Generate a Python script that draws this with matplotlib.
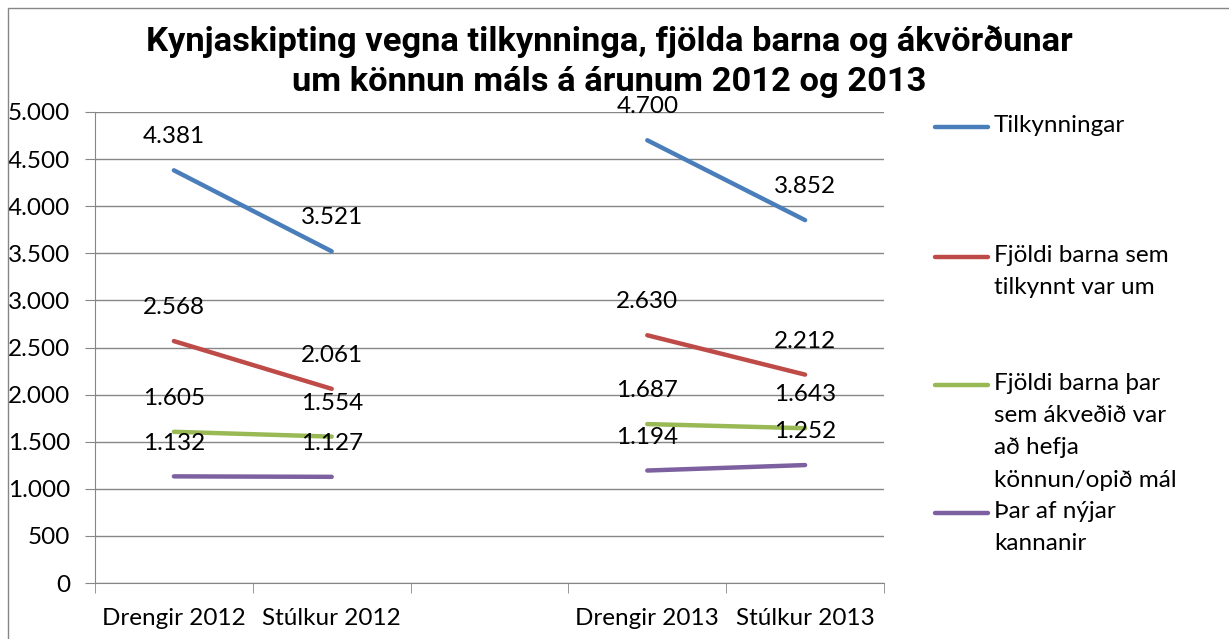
import numpy as np
import matplotlib.pyplot as plt
from matplotlib.lines import Line2D
from matplotlib.patches import Rectangle

categories = ["Drengir 2012", "Stúlkur 2012", "", "Drengir 2013", "Stúlkur 2013"]
tilkynningar = [4381, 3521, np.nan, 4700, 3852]
fjoldi_barna = [2568, 2061, np.nan, 2630, 2212]
akvedid = [1605, 1554, np.nan, 1687, 1643]
nyjar = [1132, 1127, np.nan, 1194, 1252]

series_names = ["Tilkynningar",
                "Fjöldi barna sem\ntilkynnt var um",
                "Fjöldi barna þar\nsem ákveðið var\nað hefja\nkönnun/opið mál",
                "Þar af nýjar\nkannanir"]
colors = ["#4A7EBB", "#BE4B48", "#98B954", "#7D60A0"]

plt.rcParams['font.family'] = ['Lato', 'DejaVu Sans']
fs = 17.5

fig = plt.figure(figsize=(12.29, 6.39), dpi=100)
ax = fig.add_axes([95/1229, 1-583/639, (884-95)/1229, (583-112)/639])

x = np.arange(len(categories))
for vals, c in zip([tilkynningar, fjoldi_barna, akvedid, nyjar], colors):
    ax.plot(x, vals, color=c, lw=3.2, solid_capstyle='round')
    for xi, v in zip(x, vals):
        if not np.isnan(v):
            ax.annotate(f"{int(v):,}".replace(",", "."), (xi, v), xytext=(0, 24),
                        textcoords='offset points', ha='center', va='center', fontsize=fs)

ax.set_xlim(-0.5, len(categories) - 0.5)
ax.set_ylim(0, 5000)
yt = np.arange(0, 5001, 500)
ax.set_yticks(yt)
ax.set_yticklabels([f"{v:,}".replace(",", ".") for v in yt], fontsize=fs)
ax.set_xticks(x)
ax.set_xticklabels(categories, fontsize=fs)
ax.set_xticks(np.arange(-0.5, len(categories)), minor=True)
ax.tick_params(axis='x', which='major', length=0, pad=18)
ax.tick_params(axis='x', which='minor', length=7, color='#868686', direction='out')
ax.tick_params(axis='y', length=7, color='#868686', pad=11)
ax.grid(axis='y', color='#868686', lw=1)
ax.set_axisbelow(True)
for s in ['top', 'right']:
    ax.spines[s].set_visible(False)
for s in ['left', 'bottom']:
    ax.spines[s].set_color('#868686')

# title
fig.text(0.496, 1 - 25/639, "Kynjaskipting vegna tilkynninga, fjölda barna og ákvörðunar\num könnun máls á árunum 2012 og 2013",
         ha='center', va='top', fontsize=24.8, fontweight='bold', linespacing=1.33,
         family=['Roboto', 'DejaVu Sans'])

# legend
leg_y = [127, 257, 385, 513]
for ly, name, c in zip(leg_y, series_names, colors):
    fig.add_artist(Line2D([935/1229, 988/1229], [1-ly/639, 1-ly/639], color=c, lw=3.2,
                          solid_capstyle='round'))
    fig.text(994/1229, 1-(ly-12)/639, name, ha='left', va='top', fontsize=fs, linespacing=1.66)

# chart border
fig.add_artist(Rectangle((8/1229, -0.1), 1.2, 1-8/639+0.1, transform=fig.transFigure,
                         fill=False, edgecolor='#868686', lw=1))

fig.savefig("out.png", dpi=100)
